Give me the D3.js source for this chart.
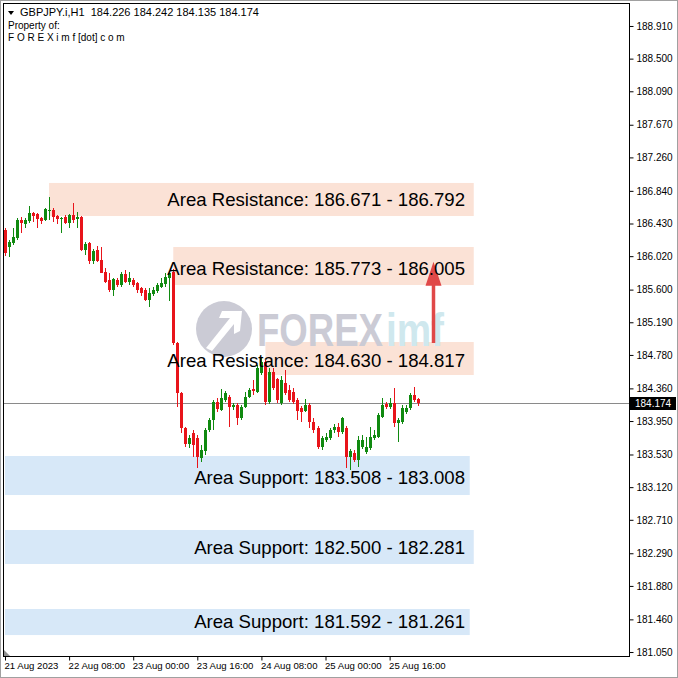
<!DOCTYPE html>
<html><head><meta charset="utf-8">
<script src="https://cdn.jsdelivr.net/npm/d3@7"></script>
<style>html,body{margin:0;padding:0;background:#fff;}svg{display:block;}</style>
</head><body>
<svg id="c" width="678" height="678"></svg>
<script>
// ---- data ----
const open = [186.348,186.135,186.185,186.248,186.474,186.424,186.461,186.562,186.549,186.499,
186.474,186.587,186.599,186.524,186.486,186.511,186.436,186.537,186.486,186.511,
186.097,186.185,185.959,186.097,185.971,185.821,185.720,185.595,185.720,185.658,
185.796,185.695,185.720,185.683,185.620,185.595,185.469,185.545,185.582,185.633,
185.670,185.746,185.821,184.929,184.301,183.861,183.661,183.799,183.736,183.485,
183.573,183.836,183.962,184.188,184.088,184.213,184.251,184.125,184.150,183.987,
184.125,184.251,184.352,184.314,184.552,184.691,184.188,184.565,184.477,184.176,
184.427,184.339,184.314,184.213,184.113,184.075,184.150,183.937,183.861,183.623,
183.711,183.736,183.836,183.874,183.811,183.861,183.497,183.548,183.460,183.623,
183.560,183.610,183.736,183.748,184.000,184.163,184.125,184.176,183.924,183.937,
184.063,184.113,184.276,184.226];
const high = [186.373,186.223,186.373,186.499,186.511,186.499,186.650,186.574,186.562,186.511,
186.625,186.763,186.625,186.537,186.511,186.537,186.549,186.687,186.574,186.524,
186.198,186.198,186.110,186.147,186.135,185.871,185.808,185.746,185.746,185.821,
185.846,185.821,185.746,185.695,185.633,185.620,185.620,185.633,185.683,185.746,
185.808,185.808,185.858,184.942,184.314,183.874,183.773,183.836,183.773,183.648,
183.861,183.987,184.213,184.238,184.352,184.326,184.276,184.176,184.176,184.150,
184.314,184.364,184.465,184.653,184.741,184.716,184.615,184.615,184.490,184.515,
184.590,184.402,184.364,184.238,184.138,184.226,184.176,183.987,183.887,183.761,
183.799,183.861,183.912,183.924,184.000,183.887,183.598,183.585,183.761,183.773,
183.748,183.874,183.836,184.050,184.238,184.188,184.238,184.364,183.987,184.150,
184.150,184.301,184.377,184.242];
const low = [186.022,186.009,186.160,186.223,186.311,186.373,186.436,186.449,186.373,186.424,
186.461,186.474,186.449,186.424,186.311,186.424,186.373,186.436,186.373,186.085,
186.034,185.921,185.921,185.946,185.808,185.683,185.570,185.520,185.633,185.633,
185.683,185.658,185.633,185.557,185.520,185.457,185.381,185.520,185.557,185.620,
185.633,185.457,184.904,184.125,183.799,183.623,183.610,183.497,183.360,183.435,
183.523,183.811,183.836,184.063,184.075,184.188,183.874,184.088,183.899,183.962,
184.113,184.238,184.276,184.301,184.527,184.150,184.163,184.339,184.176,184.150,
184.276,184.188,184.163,183.962,183.937,184.063,183.861,183.799,183.598,183.585,
183.686,183.711,183.799,183.748,183.786,183.360,183.335,183.435,183.372,183.598,
183.535,183.585,183.711,183.736,183.987,184.100,184.100,183.874,183.686,183.912,
184.037,184.088,184.188,184.135];
const close = [186.059,186.198,186.260,186.474,186.436,186.474,186.562,186.524,186.486,186.461,
186.612,186.599,186.511,186.486,186.499,186.436,186.537,186.474,186.511,186.097,
186.172,185.959,186.085,185.959,185.808,185.695,185.595,185.733,185.658,185.796,
185.695,185.746,185.658,185.595,185.557,185.469,185.557,185.595,185.658,185.683,
185.758,185.808,184.929,184.301,183.861,183.661,183.736,183.648,183.497,183.585,
183.836,183.962,184.188,184.100,184.238,184.301,184.125,184.150,183.987,184.125,
184.251,184.339,184.326,184.615,184.691,184.188,184.565,184.364,184.213,184.465,
184.301,184.213,184.188,184.075,184.063,184.150,183.937,183.836,183.623,183.736,
183.748,183.836,183.874,183.811,183.987,183.497,183.573,183.460,183.711,183.711,
183.623,183.748,183.773,184.025,184.150,184.125,184.176,183.924,183.962,184.113,
184.113,184.276,184.213,184.174];

const priceTicks = [188.910,188.500,188.090,187.670,187.260,186.840,186.430,186.020,185.600,185.190,
184.780,184.360,183.950,183.530,183.120,182.710,182.290,181.880,181.460,181.050];
const timeTickIdx = [0,16,32,48,64,80,96];
const timeTickLabels = ["21 Aug 2023","22 Aug 08:00","23 Aug 00:00","23 Aug 16:00","24 Aug 08:00","25 Aug 00:00","25 Aug 16:00"];

const zoneLabels = ["Area Resistance: 186.671 - 186.792","Area Resistance: 185.773 - 186.005","Area Resistance: 184.630 - 184.817",
  "Area Support: 183.508 - 183.008","Area Support: 182.500 - 182.281","Area Support: 181.592 - 181.261"];
const zoneType = ["res","res","res","sup","sup","sup"];
const zoneTop = [186.939,186.135,184.942,183.511,182.582,181.590];
const zoneBottom = [186.524,185.658,184.528,183.021,182.155,181.263];
const zoneStartIdx = [11,42,65,0,0,0];
const zoneEndIdx = [117,117,117,116,117,116];
const zoneLabelPrice = [186.652,185.780,184.628,183.160,182.280,181.353];

const lastPrice = 184.174;
const header = "GBPJPY.i,H1  184.226 184.242 184.135 184.174";
const arrowFrom = 184.93, arrowTo = 185.85, arrowIdx = 107;

// ---- layout ----
const svg = d3.select("#c");
const L = 4, T = 4, R = 629, B = 656;
const x = d3.scaleLinear().domain([0, 155.75]).range([5, R]);
const y = d3.scaleLinear().domain([181.000, 189.186]).range([B, T]);
const font = "Liberation Sans, Arial, sans-serif";

svg.append("rect").attr("width",678).attr("height",678).attr("fill","#fff");
svg.append("rect").attr("x",0.5).attr("y",0.5).attr("width",677).attr("height",677).attr("fill","none").attr("stroke","#a0a0a0");

const plot = svg.append("g");
plot.append("clipPath").attr("id","clip").append("rect").attr("x",L).attr("y",T).attr("width",R-L).attr("height",B-T);
const g = plot.append("g").attr("clip-path","url(#clip)");

// zones
zoneLabels.forEach((t,k)=>{
  g.append("rect")
    .attr("x", x(zoneStartIdx[k])).attr("y", y(zoneTop[k]))
    .attr("width", x(zoneEndIdx[k]) - x(zoneStartIdx[k]))
    .attr("height", y(zoneBottom[k]) - y(zoneTop[k]))
    .attr("fill", zoneType[k]==="res" ? "#fbe2d6" : "#d7e8f8");
});

// watermark
const wm = g.append("g");
wm.append("circle").attr("cx",224).attr("cy",329).attr("r",28).attr("fill","#cbcbd5");
wm.append("path").attr("d","M206,348 L230,318 L219,318 L222,311 L242,311 L240,331 L234,334 L234,324 L212,351 Z").attr("fill","#fff");
wm.append("text").attr("x",257).attr("y",346).attr("font-family",font)
  .attr("font-weight","bold").attr("font-size",46).attr("fill","#cbcbd5")
  .attr("textLength",126).attr("lengthAdjust","spacingAndGlyphs").text("FOREX");
wm.append("text").attr("x",386).attr("y",346).attr("font-family",font)
  .attr("font-weight","bold").attr("font-size",46).attr("fill","#cfe8ee")
  .attr("textLength",58).attr("lengthAdjust","spacingAndGlyphs").text("imf");

// current price line
g.append("line").attr("x1",L).attr("x2",R).attr("y1",Math.round(y(lastPrice))+0.5).attr("y2",Math.round(y(lastPrice))+0.5)
  .attr("stroke","#8a8a8a").attr("stroke-width",1);

// candles
const idx = d3.range(open.length);
const up = i => close[i] >= open[i];
const cg = g.append("g");
cg.selectAll("rect.w").data(idx).join("rect").attr("class","w")
  .attr("x", i => Math.round(x(i))).attr("width",1)
  .attr("y", i => Math.round(y(high[i])))
  .attr("height", i => Math.max(1, Math.round(y(low[i])) - Math.round(y(high[i]))))
  .attr("fill", i => up(i) ? "#108a10" : "#e8141a");
cg.selectAll("rect.b").data(idx).join("rect").attr("class","b")
  .attr("x", i => Math.round(x(i)) - 1).attr("width",3)
  .attr("y", i => Math.round(y(Math.max(open[i],close[i]))))
  .attr("height", i => Math.max(1, Math.round(y(Math.min(open[i],close[i]))) - Math.round(y(Math.max(open[i],close[i])))))
  .attr("fill", i => up(i) ? "#108a10" : "#e8141a");

// arrow
const ax = Math.round(x(arrowIdx)) - 0.5;
g.append("line").attr("x1",ax).attr("x2",ax).attr("y1",y(arrowFrom)).attr("y2",y(arrowTo)+14)
  .attr("stroke","#e04848").attr("stroke-width",3.5);
g.append("path").attr("d",`M${ax},${y(arrowTo)-8} L${ax-8},${y(arrowTo)+16} L${ax+8},${y(arrowTo)+16} Z`).attr("fill","#e04848");

// zone labels
zoneLabels.forEach((t,k)=>{
  g.append("text").attr("x",465).attr("y",y(zoneLabelPrice[k]))
    .attr("text-anchor","end").attr("font-family",font)
    .attr("font-size",18.6).attr("fill","#000").text(t);
});

// frame
svg.append("rect").attr("x",L-0.5).attr("y",T-0.5).attr("width",R-L+1).attr("height",B-T+1).attr("fill","none").attr("stroke","#000");

// right axis
const yAxis = d3.axisRight(y).tickValues(priceTicks).tickFormat(d3.format(".3f")).tickSize(4).tickPadding(3);
const ya = svg.append("g").attr("transform",`translate(${R+0.5},0)`).call(yAxis);
ya.select(".domain").remove();
ya.selectAll("text").attr("font-family",font).attr("font-size",10).attr("fill","#000");
ya.selectAll("line").attr("stroke","#000");

// price tag
const py = Math.round(y(lastPrice));
svg.append("rect").attr("x",R+1).attr("y",py-6).attr("width",46).attr("height",13).attr("fill","#000");
svg.append("text").attr("x",R+6).attr("y",py+4).attr("font-family",font)
  .attr("font-size",10).attr("fill","#fff").text(d3.format(".3f")(lastPrice));

// bottom axis
const xAxis = d3.axisBottom(x).tickValues(timeTickIdx).tickFormat((d,i)=>timeTickLabels[i]).tickSize(4).tickPadding(2);
const xa = svg.append("g").attr("transform",`translate(0,${B+0.5})`).call(xAxis);
xa.select(".domain").remove();
xa.selectAll("text").attr("text-anchor","start").attr("dx",-1).attr("font-family",font).attr("font-size",9.6).attr("fill","#000");
xa.selectAll("line").attr("stroke","#000");
svg.append("path").attr("d",`M${L},${B-6} L${L},${B} L${L+6},${B} Z`).attr("fill","#909090");

// header
svg.append("path").attr("d","M8,11 L14,11 L11,15 Z").attr("fill","#000");
svg.append("text").attr("x",20).attr("y",16).attr("font-family",font).attr("font-size",11).style("white-space","pre").text(header);
svg.append("text").attr("x",8).attr("y",29).attr("font-family",font).attr("font-size",10).text("Property of:");
svg.append("text").attr("x",8).attr("y",41).attr("font-family",font).attr("font-size",10).text("F O R E X i m f [dot] c o m");
</script>
</body></html>
